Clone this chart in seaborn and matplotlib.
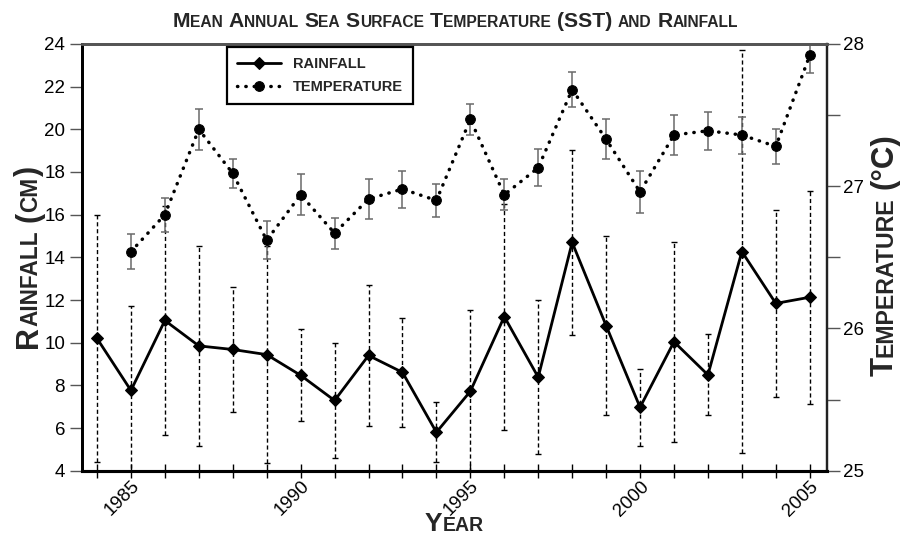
import numpy as np
import pandas as pd
import matplotlib
matplotlib.use("Agg")
import matplotlib.pyplot as plt
import matplotlib.transforms as mtransforms
import seaborn as sns

# Values
years = list(range(1984, 2006))
rainfall = [10.2, 7.76, 11.04, 9.85, 9.68, 9.44, 8.47, 7.29, 9.4, 8.61, 5.8,
            7.72, 11.22, 8.38, 14.7, 10.8, 6.97, 10.04, 8.49, 14.27, 11.84, 12.13]
rain_err = [5.8, 3.95, 5.35, 4.7, 2.93, 5.1, 2.15, 2.7, 3.3, 2.56, 1.4,
            3.8, 5.3, 3.6, 4.35, 4.2, 1.8, 4.7, 1.9, 9.45, 4.4, 5.0]

temp_years = list(range(1985, 2006))
temperature = [26.54, 26.80, 27.40, 27.09, 26.62, 26.94, 26.67, 26.91, 26.98, 26.90,
               27.47, 26.94, 27.13, 27.68, 27.33, 26.96, 27.36, 27.39, 27.36, 27.28, 27.92]
temp_err = [0.125, 0.12, 0.145, 0.10, 0.135, 0.145, 0.11, 0.14, 0.13, 0.115,
            0.11, 0.11, 0.13, 0.125, 0.14, 0.15, 0.14, 0.135, 0.13, 0.125, 0.125]

x_labels = [str(y) if y % 5 == 0 else "" for y in years]
left_ticks = list(range(4, 25, 2))
right_ticks = [25, 25.5, 26, 26.5, 27, 27.5, 28]
right_labels = ["25", "", "26", "", "27", "", "28"]

rain_df = pd.DataFrame({"year": years, "rain": rainfall})
temp_df = pd.DataFrame({"year": temp_years, "temp": temperature})

sns.set_style("ticks")
plt.rcParams["font.family"] = ["Liberation Sans", "DejaVu Sans"]
label_font = ["Liberation Sans", "DejaVu Sans"]


def small_caps(fig, x, y, text, size, rotation=0):
    # fake small caps: lower case letters drawn as smaller capitals
    renderer = fig.canvas.get_renderer()
    words = text.split(" ")
    gap = size * 0.28 / 72 * fig.dpi
    texts, widths = [], []
    for i, word in enumerate(words):
        runs = []
        for ch in word:
            fs = size * 0.74 if ch.islower() else size
            if runs and runs[-1][1] == fs:
                runs[-1][0] += ch.upper()
            else:
                runs.append([ch.upper(), fs])
        for j, (s, fs) in enumerate(runs):
            t = fig.text(x, y, s, fontsize=fs, fontweight="bold", family=label_font,
                         rotation=rotation, ha="left", va="baseline",
                         rotation_mode="anchor")
            bb = t.get_window_extent(renderer)
            w = bb.width if rotation == 0 else bb.height
            if j == len(runs) - 1 and i < len(words) - 1:
                w += gap
            texts.append(t)
            widths.append(w)
    pos = -sum(widths) / 2
    for t, w in zip(texts, widths):
        dx, dy = (pos, 0) if rotation == 0 else (0, pos)
        t.set_transform(mtransforms.offset_copy(fig.transFigure, fig=fig,
                                                x=dx, y=dy, units="dots"))
        pos += w


fig = plt.figure(figsize=(9.05, 5.54), dpi=100)
fig.subplots_adjust(left=0.0903, right=0.9135, top=0.9206, bottom=0.1504)
ax = fig.add_subplot(111)
ax2 = ax.twinx()

# rainfall: dashed error bars + solid line with diamonds
eb = ax.errorbar(years, rainfall, yerr=rain_err, fmt="none", ecolor="black",
                 elinewidth=1, capsize=2.5, capthick=1, zorder=2)
eb[2][0].set_linestyle((0, (3, 2)))
sns.lineplot(data=rain_df, x="year", y="rain", ax=ax, color="black", lw=2,
             marker="D", markersize=6, markeredgecolor="black", zorder=3)
rain_line = ax.get_lines()[-1]

# temperature: grey error bars + dotted line with circles
ax2.errorbar(temp_years, temperature, yerr=temp_err, fmt="none", ecolor="#6a6a6a",
             elinewidth=1.1, capsize=3, capthick=1.1, zorder=2)
sns.lineplot(data=temp_df, x="year", y="temp", ax=ax2, color="black", lw=2.5,
             linestyle=(0, (0.1, 2.3)), dash_capstyle="round",
             marker="o", markersize=7, markeredgecolor="black", zorder=3)
temp_line = ax2.get_lines()[-1]

ax.set_xlim(1983.55, 2005.5)
ax.set_ylim(4, 24)
ax2.set_ylim(25, 28)
ax.set_xticks(years)
ax.set_xticklabels(x_labels, rotation=45, ha="right", rotation_mode="anchor",
                   fontsize=13.5)
shift = mtransforms.ScaledTranslation(6 / 100, 0, fig.dpi_scale_trans)
for lab in ax.get_xticklabels():
    lab.set_transform(lab.get_transform() + shift)
ax.set_yticks(left_ticks)
ax.set_yticklabels([str(v) for v in left_ticks], fontsize=13.5)
ax2.set_yticks(right_ticks)
ax2.set_yticklabels(right_labels, fontsize=13.5)
ax.set_xlabel("")
ax.set_ylabel("")
ax2.set_ylabel("")

ax.tick_params(axis="x", direction="inout", length=10, width=1, pad=0, colors="black")
ax.tick_params(axis="y", direction="out", length=9, width=1, pad=3, colors="black",
               color="#555555")
ax2.tick_params(axis="y", direction="out", length=9, width=1, pad=3, colors="black",
                color="#555555")

for a in (ax, ax2):
    a.spines["left"].set_linewidth(2)
    a.spines["left"].set_color("black")
    a.spines["bottom"].set_linewidth(2.2)
    a.spines["bottom"].set_color("black")
    a.spines["top"].set_visible(True)
    a.spines["top"].set_linewidth(2)
    a.spines["top"].set_color("#555555")
    a.spines["right"].set_visible(True)
    a.spines["right"].set_linewidth(1.6)
    a.spines["right"].set_color("#222222")

leg = ax2.legend([rain_line, temp_line], ["RAINFALL", "TEMPERATURE"],
                 loc="upper left", bbox_to_anchor=(0.195, 0.994), borderaxespad=0,
                 fancybox=False, framealpha=1, edgecolor="black", handlelength=3.0,
                 prop={"family": label_font, "weight": "bold", "size": 10.5},
                 borderpad=0.7, labelspacing=0.65)
leg.get_frame().set_linewidth(1.6)

small_caps(fig, 0.503, 0.951, "Mean Annual Sea Surface Temperature (SST) and Rainfall", 15.2)
small_caps(fig, 0.502, 0.042, "Year", 19)
small_caps(fig, 0.041, 0.536, "Rainfall (cm)", 22, rotation=90)
small_caps(fig, 0.986, 0.54, "Temperature (°C)", 22.5, rotation=90)

fig.savefig("out.png", dpi=100)
